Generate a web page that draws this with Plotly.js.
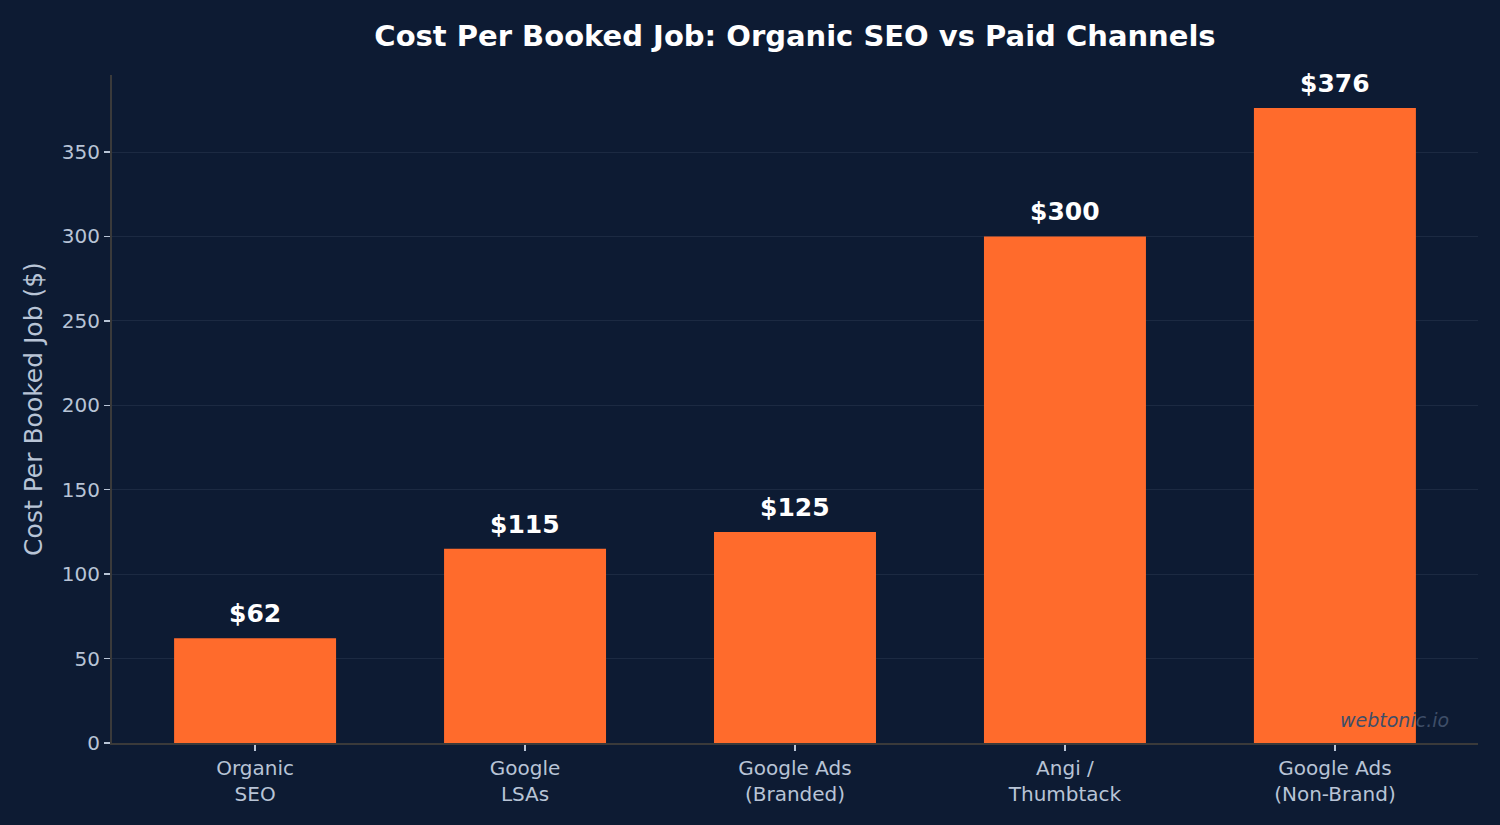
<!DOCTYPE html>
<html>
<head>
<meta charset="utf-8">
<script src="https://cdn.plot.ly/plotly-3.0.1.min.js"></script>
<style>html,body{margin:0;padding:0;background:#0d1b33;}#chart{width:1500px;height:825px;}</style>
</head>
<body>
<div id="chart"></div>
<script>
const categories = ["Organic<br>SEO", "Google<br>LSAs", "Google Ads<br>(Branded)", "Angi /<br>Thumbtack", "Google Ads<br>(Non-Brand)"];
const costs = [62, 115, 125, 300, 376];
const labels = ["$62", "$115", "$125", "$300", "$376"];
const yTicks = [0, 50, 100, 150, 200, 250, 300, 350];

const xIdx = categories.map((_, i) => i);
const font = "DejaVu Sans, sans-serif";

const trace = {
  type: "bar",
  x: xIdx,
  y: costs,
  width: 0.6,
  marker: {color: "#ff6b2c", line: {width: 0}},
  hoverinfo: "skip"
};

const annotations = costs.map((v, i) => ({
  x: i, y: v, xref: "x", yref: "y",
  text: "<b>" + labels[i] + "</b>",
  showarrow: false, yanchor: "bottom", yshift: 8,
  font: {family: font, size: 25, color: "#ffffff"}
}));
annotations.push({
  xref: "paper", yref: "paper", x: 0.98, y: 0.035,
  xanchor: "right", yanchor: "middle",
  text: "<i>webtonic.io</i>", showarrow: false,
  font: {family: font, size: 19, color: "#3e4e68"}
});

const layout = {
  width: 1500, height: 825,
  paper_bgcolor: "#0d1b33",
  plot_bgcolor: "#0d1b33",
  margin: {l: 112, r: 22, t: 75, b: 82},
  showlegend: false,
  bargap: 0.4,
  title: {
    text: "<b>Cost Per Booked Job: Organic SEO vs Paid Channels</b>",
    font: {family: font, size: 29, color: "#ffffff"},
    x: 0.53, xanchor: "center", y: 0.956, yanchor: "middle"
  },
  xaxis: {
    range: [-0.53, 4.53],
    tickmode: "array", tickvals: xIdx, ticktext: categories,
    showgrid: false, zeroline: false,
    showline: true, linecolor: "#3a3a3a", linewidth: 2,
    ticks: "outside", ticklen: 6, tickwidth: 1.5, tickcolor: "#b8c4d6",
    tickfont: {family: font, size: 20, color: "#b8c4d6"}
  },
  yaxis: {
    range: [0, 395.6],
    tickmode: "array", tickvals: yTicks,
    showgrid: true, gridcolor: "#1c2a42", gridwidth: 1,
    zeroline: false,
    showline: true, linecolor: "#3a3a3a", linewidth: 2,
    ticks: "outside", ticklen: 6, tickwidth: 1.5, tickcolor: "#b8c4d6",
    tickfont: {family: font, size: 20, color: "#b8c4d6"},
    title: {text: "Cost Per Booked Job ($)", font: {family: font, size: 25, color: "#b8c4d6"}, standoff: 12}
  },
  annotations: annotations
};

Plotly.newPlot("chart", [trace], layout, {displayModeBar: false, staticPlot: true});
</script>
</body>
</html>
